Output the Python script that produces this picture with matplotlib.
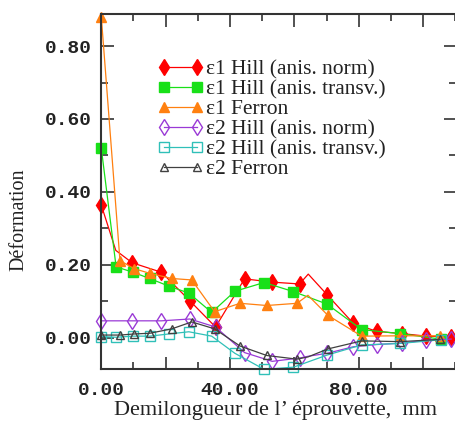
import matplotlib
matplotlib.use("Agg")
import matplotlib.pyplot as plt
from matplotlib.ticker import MultipleLocator, FixedLocator, FixedFormatter

# abscisses des trois calculs (mm)
x_norm = [0, 4.5, 9.6, 18.7, 27.5, 35.5, 44.5, 53.1, 61.6, 64.3, 70.2, 78.3, 85.6, 93.4, 101.0, 108.7]
x_transv = [0, 4.6, 9.9, 15.0, 21.0, 27.2, 34.3, 41.5, 50.6, 59.7, 70.1, 80.9, 92.8, 105.4]
x_ferron = [0, 5.8, 10.2, 15.1, 21.9, 28.1, 35.2, 43.1, 51.4, 60.8, 64.2, 70.4, 80.9, 92.8, 105.2]

# deformations
e1_hill_norm = [0.364, 0.24, 0.206, 0.180, 0.102, 0.030, 0.162, 0.153, 0.148, 0.175, 0.118, 0.040, 0.018, 0.012, 0.005, 0.003]
e1_hill_transv = [0.52, 0.195, 0.180, 0.163, 0.142, 0.123, 0.070, 0.128, 0.152, 0.127, 0.093, 0.023, 0.012, -0.003]
e1_ferron = [0.88, 0.212, 0.190, 0.177, 0.163, 0.159, 0.072, 0.095, 0.089, 0.095, 0.117, 0.062, 0.005, 0.006, 0.006]

e2_hill_norm = [0.047, 0.047, 0.047, 0.047, 0.052, 0.030, -0.040, -0.064, -0.055, -0.050, -0.042, -0.024, -0.018, -0.014, -0.006, -0.003]
e2_hill_transv = [0.004, 0.002, 0.005, 0.005, 0.011, 0.017, 0.005, -0.042, -0.086, -0.080, -0.047, -0.019, -0.015, -0.005]
e2_ferron = [0.008, 0.008, 0.011, 0.013, 0.025, 0.044, 0.025, -0.022, -0.048, -0.058, -0.052, -0.030, -0.008, -0.010, -0.004]

labels = ["ε1 Hill (anis. norm)", "ε1 Hill (anis. transv.)", "ε1 Ferron",
          "ε2 Hill (anis. norm)", "ε2 Hill (anis. transv.)", "ε2 Ferron"]

# points sans marqueur (pics de la courbe)
mk_norm = [i for i in range(len(x_norm)) if i not in (1, 9)]
mk_ferron = [i for i in range(len(x_ferron)) if i != 10]

fig = plt.figure(figsize=(4.56, 4.24), dpi=100)
ax = fig.add_axes([101.3 / 456, 1 - 369 / 424, 1 - 101.3 / 456, 355 / 424])

lw = 0.9
ax.plot(x_norm, e1_hill_norm, color="#ff0000", lw=lw, marker="d", ms=8, markevery=mk_norm,
        label=labels[0], clip_on=False)
ax.plot(x_transv, e1_hill_transv, color="#18e018", lw=lw, marker="s", ms=7.5,
        label=labels[1], clip_on=False)
ax.plot(x_ferron, e1_ferron, color="#ff8010", lw=lw, marker="^", ms=6.5, markevery=mk_ferron,
        label=labels[2], clip_on=False)
ax.plot(x_norm, e2_hill_norm, color="#9a3ad6", lw=lw, marker="d", ms=8, mfc="none", mew=1,
        markevery=mk_norm, label=labels[3], clip_on=False)
ax.plot(x_transv, e2_hill_transv, color="#30c0b8", lw=lw, marker="s", ms=7.5, mfc="none", mew=1,
        label=labels[4], clip_on=False)
ax.plot(x_ferron, e2_ferron, color="#404040", lw=lw, marker="^", ms=6, mfc="none", mew=1,
        markevery=mk_ferron, label=labels[5], clip_on=False)

ax.set_xlim(0, 110.2)
ax.set_ylim(-0.085, 0.8877)

ax.xaxis.set_major_locator(FixedLocator([0, 20, 40, 60, 80, 100]))
ax.xaxis.set_major_formatter(FixedFormatter(["0.00", "", "40.00", "", "80.00", ""]))
ax.xaxis.set_minor_locator(MultipleLocator(10))
ax.yaxis.set_major_locator(MultipleLocator(0.2))
ax.yaxis.set_major_formatter(plt.FuncFormatter(lambda v, p: f"{v:.2f}"))
ax.yaxis.set_minor_locator(MultipleLocator(0.1))

ax.tick_params(which="both", direction="in", top=True, right=True, color="#333333", width=1.2)
ax.tick_params(which="major", length=9)
ax.tick_params(which="minor", length=5)
ax.tick_params(axis="y", which="major", pad=6.5)
ax.tick_params(axis="x", which="major", pad=9.5)
for lab in ax.get_xticklabels() + ax.get_yticklabels():
    lab.set_family("Liberation Mono")
    lab.set_fontweight("bold")
    lab.set_fontsize(14)
    lab.set_color("#222222")

for side in ["left", "bottom", "top"]:
    ax.spines[side].set_linewidth(1.5)
    ax.spines[side].set_color("#333333")
ax.spines["right"].set_visible(False)

fig.text(19 / 456, 1 - 220 / 424, "Déformation", rotation=90, ha="center", va="center",
         family="Liberation Serif", fontsize=14.5, color="#222222")
fig.text(275 / 456, 1 - 410 / 424, "Demilongueur de l’ éprouvette,  mm", ha="center", va="center",
         family="Liberation Serif", fontsize=16, color="#222222")

leg = ax.legend(loc="upper left", bbox_to_anchor=(158 / 456, 1 - 59 / 424), bbox_transform=fig.transFigure,
                frameon=False, numpoints=2, borderpad=0, borderaxespad=0, handlelength=2.1,
                handletextpad=0.15, labelspacing=0.0,
                prop={"family": ["Liberation Serif", "DejaVu Serif"], "size": 15.5})
for t in leg.get_texts():
    t.set_color("#222222")

fig.savefig("out.png", dpi=100)
